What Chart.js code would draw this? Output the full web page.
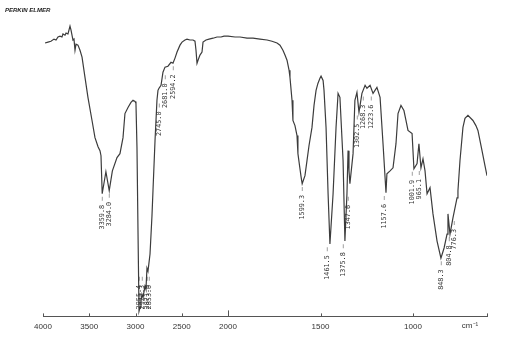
<!DOCTYPE html>
<html>
<head>
<meta charset="utf-8">
<script src="https://cdn.jsdelivr.net/npm/chart.js@4"></script>
<style>
  html, body { margin: 0; padding: 0; background: #fff; }
  #spectrum { display: block; }
</style>
</head>
<body>
<canvas id="spectrum" width="510" height="343"></canvas>
<script>
// IR-Spektrum (Perkin Elmer Ausdruck)
const wavenumbers = [
  3978, 3946, 3914, 3881, 3859, 3838, 3816, 3795, 3784, 3762, 3751, 3730, 3708, 3697, 3676, 3665, 3654, 3643, 3622, 3600,
  3578, 3546, 3514, 3470, 3438, 3405, 3384, 3373, 3360, 3320, 3284, 3250, 3200, 3168, 3135, 3114, 3081, 3049, 3027, 3005,
  2995, 2984, 2973, 2962, 2951, 2941, 2930, 2919, 2897, 2887, 2876, 2865, 2843, 2822, 2811, 2789, 2768, 2757, 2746, 2724,
  2703, 2681, 2649, 2616, 2595, 2573, 2551, 2519, 2497, 2465, 2443, 2411, 2378, 2357, 2346, 2335, 2324, 2303, 2281, 2270,
  2238, 2205, 2162, 2119, 2076, 2043, 2000,
  1962, 1935, 1897, 1865, 1827, 1789, 1762, 1735, 1719, 1703, 1692, 1681, 1670, 1665, 1654, 1649, 1638, 1627, 1622, 1611,
  1605, 1599, 1584, 1573, 1562, 1546, 1535, 1524, 1514, 1503, 1497, 1486, 1481, 1470, 1459, 1449, 1432, 1416, 1405, 1395,
  1378, 1368, 1357, 1351, 1346, 1341, 1324, 1314, 1303, 1292, 1276, 1259, 1249, 1232, 1216, 1195, 1178, 1162, 1146, 1141,
  1124, 1108, 1092, 1081, 1065, 1049, 1038, 1027, 1005, 995, 978, 968, 957, 946, 935, 924, 908, 892, 870, 849,
  832, 816, 811, 800, 784, 762, 757, 746, 730, 719, 703, 676, 660, 649, 627, 611, 600
];
const transmittance = [
  90.7, 91.0, 91.3, 92.0, 91.7, 92.7, 93.0, 92.7, 93.7, 93.3, 94.0, 93.7, 96.3, 95.0, 91.7, 92.0, 88.3, 90.3, 90.0, 88.3,
  86.0, 79.3, 72.7, 65.0, 59.3, 56.3, 55.0, 53.3, 40.7, 48.0, 41.7, 48.3, 52.7, 54.0, 59.3, 67.3, 69.3, 71.0, 71.7, 71.3,
  70.7, 56.0, 28.3, 1.7, 3.0, 5.0, 7.3, 6.3, 10.0, 9.0, 16.0, 15.0, 20.7, 33.3, 41.7, 58.3, 71.7, 75.0, 75.7, 76.7,
  81.0, 82.7, 83.0, 84.3, 84.0, 85.7, 87.7, 90.0, 91.0, 91.7, 92.0, 91.7, 91.7, 91.3, 88.3, 84.0, 85.0, 86.7, 87.7, 91.0,
  91.7, 92.0, 92.3, 92.7, 92.7, 93.0, 93.0,
  92.7, 92.7, 92.3, 92.3, 92.0, 91.7, 91.3, 90.7, 90.0, 88.3, 86.7, 85.0, 81.7, 79.3, 71.7, 65.0, 63.3, 60.0, 54.0, 49.0,
  46.3, 44.0, 46.7, 51.7, 56.7, 62.7, 70.0, 75.0, 77.3, 79.0, 79.7, 78.3, 75.0, 62.7, 40.7, 24.0, 40.7, 62.7, 74.0, 72.7,
  51.7, 25.0, 40.7, 55.0, 48.3, 44.0, 54.0, 71.7, 74.3, 67.7, 74.0, 76.7, 75.7, 76.7, 74.0, 76.0, 72.7, 57.3, 41.0, 47.3,
  48.3, 49.3, 57.3, 67.3, 70.0, 68.3, 65.0, 61.7, 60.7, 49.0, 50.7, 57.3, 49.3, 52.3, 48.3, 40.7, 42.7, 34.0, 25.0, 19.3,
  22.7, 27.3, 34.0, 27.3, 32.7, 39.3, 41.7, 51.7, 62.7, 65.7, 66.7, 65.0, 63.3, 61.7, 55.0, 50.0, 46.7
];

const tickWavenumbers = [4000, 3500, 3000, 2500, 2000, 1500, 1000];
const axisEnd = 600;

// beschriftete Banden
const peakWavenumbers = [3359.8, 3284.0, 2745.0, 2681.0, 2594.2, 1599.3, 1461.5, 1375.8, 1347.6, 1302.5,
  1268.3, 1223.6, 1157.6, 1001.9, 965.1, 848.3, 804.8, 776.3];
const peakLabels = ['3359.8', '3284.0', '2745.0', '2681.0', '2594.2', '1599.3', '1461.5', '1375.8', '1347.6', '1302.5',
  '1268.3', '1223.6', '1157.6', '1001.9', '965.1', '848.3', '804.8', '776.3'];
// ueberlappende Beschriftungen im C-H Bereich
const clusterWavenumbers = [2955.4, 2922.3, 2871.9, 2853.0];
const clusterLabels = ['2955.4', '2922.3', '2871.9', '2853.0'];

// Skala: 4000-2000 halb so breit wie 2000-600
function toAxis(wn) {
  return wn >= 2000 ? (4000 - wn) / 2000 : 1 + (2000 - wn) / 1000;
}
function fromAxis(u) {
  return u <= 1 ? 4000 - u * 2000 : 2000 - (u - 1) * 1000;
}

const points = wavenumbers.map((w, i) => ({ x: toAxis(w), y: transmittance[i] }));

const decorations = {
  id: 'decorations',
  afterDraw(chart) {
    const ctx = chart.ctx;
    const xs = chart.scales.x;
    const ys = chart.scales.y;
    const bottom = chart.chartArea.bottom;

    ctx.save();
    // Teilstriche nach oben
    ctx.strokeStyle = '#555';
    ctx.lineWidth = 1;
    tickWavenumbers.concat([axisEnd]).forEach(w => {
      const x = Math.round(xs.getPixelForValue(toAxis(w))) + 0.5;
      ctx.beginPath();
      ctx.moveTo(x, bottom);
      ctx.lineTo(x, bottom - (w === 2000 ? 6 : 3));
      ctx.stroke();
    });

    ctx.fillStyle = '#333';
    ctx.font = '8px "Liberation Sans"';
    ctx.textAlign = 'center';
    ctx.textBaseline = 'middle';
    ctx.fillText('cm\u207B\u00B9', 470, 326);

    ctx.font = 'italic bold 6px "Liberation Sans"';
    ctx.textAlign = 'left';
    ctx.fillStyle = '#222';
    ctx.fillText('PERKIN ELMER', 5, 10);

    // Bandenbeschriftung, senkrecht unter dem Minimum
    ctx.font = '6.8px "DejaVu Sans Mono"';
    ctx.fillStyle = '#333';
    ctx.textBaseline = 'middle';
    peakWavenumbers.forEach((w, i) => {
      const x = xs.getPixelForValue(toAxis(w));
      let yMax = -Infinity;
      points.forEach(p => {
        const px = xs.getPixelForValue(p.x);
        if (Math.abs(px - x) <= 2.6) yMax = Math.max(yMax, ys.getPixelForValue(p.y));
      });
      ctx.save();
      ctx.translate(x, yMax + 3);
      ctx.rotate(-Math.PI / 2);
      ctx.textAlign = 'right';
      ctx.fillText(peakLabels[i] + ' \u2013', 0, 0);
      ctx.restore();
    });
    clusterWavenumbers.forEach((w, i) => {
      const x = xs.getPixelForValue(toAxis(w));
      ctx.save();
      ctx.translate(x, bottom - 7);
      ctx.rotate(-Math.PI / 2);
      ctx.textAlign = 'left';
      ctx.fillText(clusterLabels[i] + ' \u2013', 0, 0);
      ctx.restore();
    });
    ctx.restore();
  }
};

new Chart(document.getElementById('spectrum'), {
  type: 'line',
  data: {
    datasets: [{
      data: points,
      borderColor: '#3c3c3c',
      borderWidth: 1.2,
      pointRadius: 0,
      tension: 0,
      fill: false
    }]
  },
  options: {
    responsive: false,
    animation: false,
    devicePixelRatio: 1,
    layout: { padding: { left: 43, right: 23, top: 15, bottom: 5 } },
    scales: {
      x: {
        type: 'linear',
        min: 0,
        max: toAxis(axisEnd),
        afterBuildTicks: scale => {
          scale.ticks = tickWavenumbers.map(w => ({ value: toAxis(w) }));
        },
        ticks: {
          callback: v => Math.round(fromAxis(v)),
          font: { size: 8, family: '"Liberation Sans"' },
          color: '#333',
          maxRotation: 0,
          autoSkip: false,
          padding: 6
        },
        grid: { display: false, drawTicks: false },
        border: { display: true, color: '#555', width: 1 }
      },
      y: { display: false, min: 0, max: 100 }
    },
    plugins: {
      legend: { display: false },
      tooltip: { enabled: false }
    }
  },
  plugins: [decorations]
});
</script>
</body>
</html>
